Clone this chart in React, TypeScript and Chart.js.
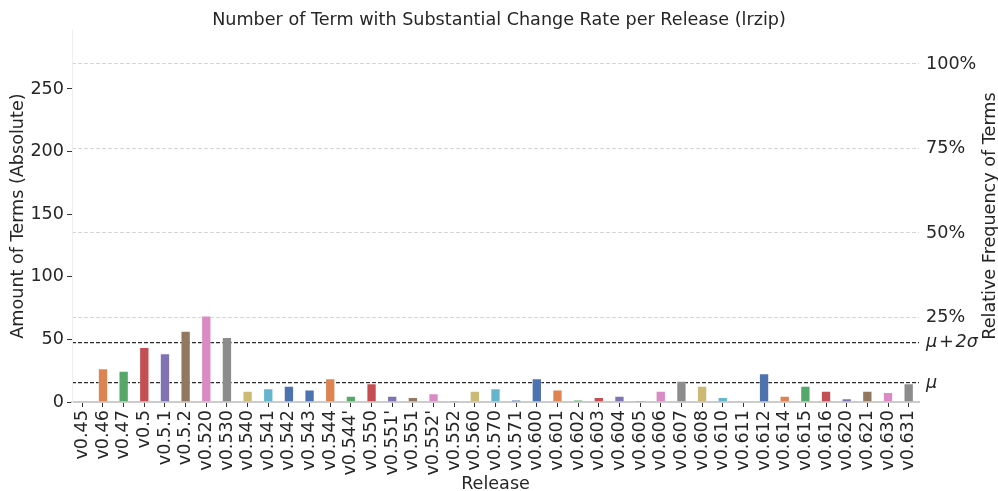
import React, { useEffect, useRef } from 'react';
import { Chart, registerables } from 'chart.js';

Chart.register(...registerables);

const releases = [
  'v0.45', 'v0.46', 'v0.47', 'v0.5', 'v0.5.1', 'v0.5.2', 'v0.520', 'v0.530', 'v0.540', 'v0.541',
  'v0.542', 'v0.543', 'v0.544', "v0.544'", 'v0.550', "v0.551'", 'v0.551', "v0.552'", 'v0.552', 'v0.560',
  'v0.570', 'v0.571', 'v0.600', 'v0.601', 'v0.602', 'v0.603', 'v0.604', 'v0.605', 'v0.606', 'v0.607',
  'v0.608', 'v0.610', 'v0.611', 'v0.612', 'v0.614', 'v0.615', 'v0.616', 'v0.620', 'v0.621', 'v0.630',
  'v0.631',
];

const termCounts = [
  0, 27, 25, 44, 39, 57, 69, 52, 9, 11,
  13, 10, 19, 5, 15, 5, 4, 7, 1, 9,
  11, 2, 19, 10, 2, 4, 5, 1, 9, 17,
  13, 4, 0, 23, 5, 13, 9, 3, 9, 8,
  15,
];

const barPalette = [
  '#4C72B0', '#DD8452', '#55A868', '#C44E52', '#8172B3', '#937860',
  '#DA8BC3', '#8C8C8C', '#CCB974', '#64B5CD', '#4C72B0',
];

const totalTerms = 270;
const meanTerms = 15.2;
const meanPlus2SigmaTerms = 47.4;
const absoluteTicks = [0, 50, 100, 150, 200, 250];
const relativeTicks = [25, 50, 75, 100];

const chartTitle = 'Number of Term with Substantial Change Rate per Release (lrzip)';
const xTitle = 'Release';
const yTitle = 'Amount of Terms (Absolute)';
const y2Title = 'Relative Frequency of Terms';

const FONT = "'DejaVu Sans', 'Liberation Sans', sans-serif";
const TEXT = '#262626';
const FS = 17.6;

export default function App() {
  const canvasRef = useRef<HTMLCanvasElement | null>(null);

  useEffect(() => {
    const canvas = canvasRef.current;
    if (!canvas) return;

    const muPct = (meanTerms / totalTerms) * 100;
    const mu2Pct = (meanPlus2SigmaTerms / totalTerms) * 100;
    const isMu = (v: number) => Math.abs(v - muPct) < 1e-6 || Math.abs(v - mu2Pct) < 1e-6;

    const rightTitlePlugin = {
      id: 'rightTitle',
      afterDraw(chart: any) {
        const s = chart.scales.y2;
        if (!s) return;
        const ctx = chart.ctx;
        ctx.save();
        ctx.translate(chart.width - 8, (s.top + s.bottom) / 2);
        ctx.rotate(-Math.PI / 2);
        ctx.font = `${FS}px ${FONT}`;
        ctx.fillStyle = TEXT;
        ctx.textAlign = 'center';
        ctx.textBaseline = 'middle';
        ctx.fillText(y2Title, 0, 0);
        ctx.restore();
      },
    };

    const chart = new Chart(canvas, {
      type: 'bar',
      data: {
        labels: releases,
        datasets: [
          {
            data: termCounts,
            backgroundColor: termCounts.map((_, i) => barPalette[i % barPalette.length]),
            borderColor: 'rgba(255,255,255,0.45)',
            borderWidth: 1,
            barPercentage: 0.5,
            categoryPercentage: 1,
            yAxisID: 'y',
          },
        ],
      },
      plugins: [rightTitlePlugin],
      options: {
        animation: false,
        responsive: false,
        maintainAspectRatio: false,
        layout: { padding: 0 },
        plugins: {
          legend: { display: false },
          tooltip: { enabled: false },
          title: {
            display: true,
            text: chartTitle,
            color: TEXT,
            font: { family: FONT, size: FS, weight: 'normal', lineHeight: 1.2 },
            padding: { top: 10, bottom: -1 },
          },
        },
        scales: {
          x: {
            type: 'category',
            offset: true,
            afterFit: (scale: any) => {
              scale.height = 89;
            },
            grid: {
              display: true,
              drawOnChartArea: false,
              drawTicks: true,
              tickLength: 5,
              tickColor: '#333333',
              tickWidth: 1,
              offset: false,
            },
            border: { display: true, color: '#cccccc', width: 2 },
            ticks: {
              autoSkip: false,
              maxRotation: 90,
              minRotation: 90,
              padding: 3,
              color: TEXT,
              font: { family: FONT, size: FS, lineHeight: 1.2 },
            },
            title: {
              display: true,
              text: xTitle,
              color: TEXT,
              font: { family: FONT, size: FS, lineHeight: 1.0 },
              padding: { top: 0, bottom: -2 },
            },
          },
          y: {
            type: 'linear',
            position: 'left',
            min: 0,
            max: totalTerms * 1.1,
            afterBuildTicks: (scale: any) => {
              scale.ticks = absoluteTicks.map((v) => ({ value: v }));
            },
            afterFit: (scale: any) => {
              scale.width = 72;
            },
            grid: {
              display: true,
              drawOnChartArea: false,
              drawTicks: true,
              tickLength: 5,
              tickColor: '#333333',
              tickWidth: 1,
            },
            border: { display: true, color: '#eeeeee', width: 1 },
            ticks: {
              padding: 3,
              color: TEXT,
              font: { family: FONT, size: FS, lineHeight: 1.2 },
            },
            title: {
              display: true,
              text: yTitle,
              color: TEXT,
              font: { family: FONT, size: FS, lineHeight: 1.2 },
              padding: { top: 8, bottom: 1 },
            },
          },
          y2: {
            type: 'linear',
            position: 'right',
            min: 0,
            max: 110,
            afterBuildTicks: (scale: any) => {
              scale.ticks = [...relativeTicks, mu2Pct, muPct].map((v) => ({ value: v }));
            },
            afterFit: (scale: any) => {
              scale.width = 79;
            },
            grid: {
              display: true,
              drawOnChartArea: true,
              drawTicks: false,
              color: (ctx: any) => (ctx.tick && isMu(ctx.tick.value) ? '#2a2a2a' : '#d6d6d6'),
              lineWidth: (ctx: any) => (ctx.tick && isMu(ctx.tick.value) ? 1.2 : 1),
            },
            border: { display: false, dash: [4, 2] },
            ticks: {
              padding: 7,
              color: TEXT,
              callback: (value: any) => {
                const v = Number(value);
                if (Math.abs(v - muPct) < 1e-6) return 'μ';
                if (Math.abs(v - mu2Pct) < 1e-6) return 'μ\u200A+\u200A2σ';
                return `${v}%`;
              },
              font: (ctx: any) => ({
                family: FONT,
                size: FS,
                lineHeight: 1.2,
                style: ctx.tick && isMu(ctx.tick.value) ? 'italic' : 'normal',
              }),
            },
            title: { display: false },
          },
        },
      },
    } as any);

    return () => {
      chart.destroy();
    };
  }, []);

  return (
    <div style={{ position: 'fixed', left: 0, top: 0, width: 998, height: 491, background: '#ffffff' }}>
      <canvas ref={canvasRef} width={998} height={491} style={{ display: 'block', width: 998, height: 491 }} />
    </div>
  );
}
